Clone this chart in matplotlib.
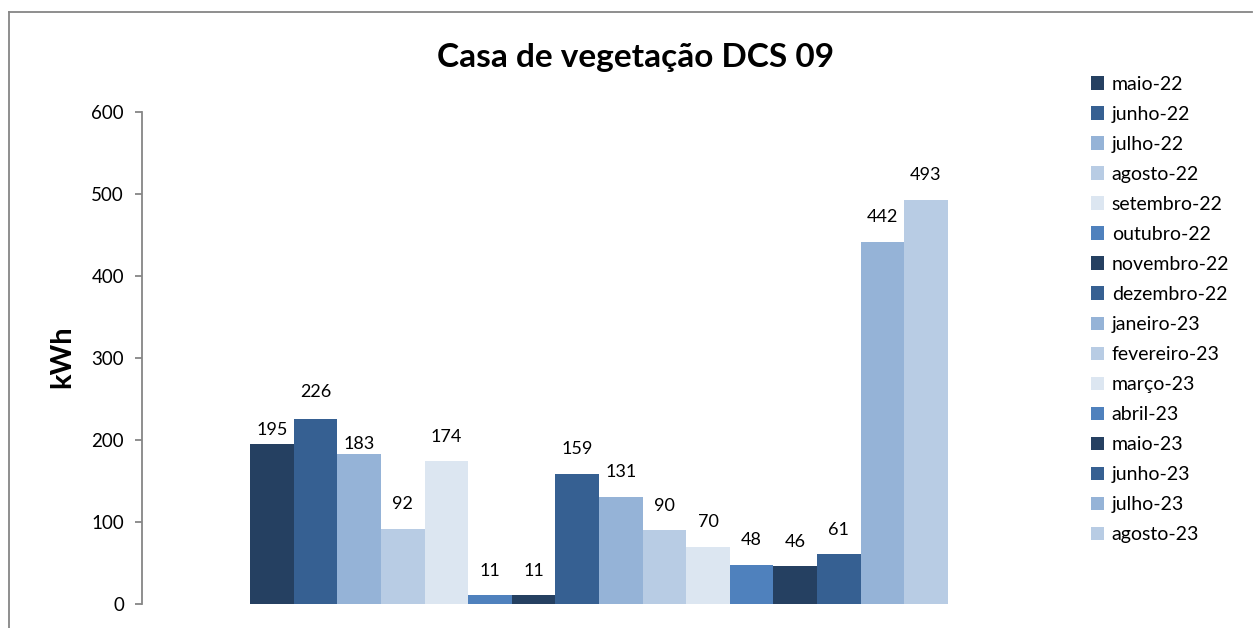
import matplotlib
matplotlib.use("Agg")
import matplotlib.pyplot as plt
from matplotlib.lines import Line2D

months = ["maio-22", "junho-22", "julho-22", "agosto-22", "setembro-22", "outubro-22",
          "novembro-22", "dezembro-22", "janeiro-23", "fevereiro-23", "março-23", "abril-23",
          "maio-23", "junho-23", "julho-23", "agosto-23"]
values = [195, 226, 183, 92, 174, 11, 11, 159, 131, 90, 70, 48, 46, 61, 442, 493]
palette = ["#254061", "#366092", "#95B3D7", "#B8CCE4", "#DCE6F1", "#4F81BD"]
colors = [palette[i % 6] for i in range(len(months))]

title = "Casa de vegetação DCS 09"
ylabel = "kWh"
yticks = [0, 100, 200, 300, 400, 500, 600]

# label placement tweaks (points) relative to the default outside-end offset
label_nudge_pt = [-7, 2, -10] + [0] * 13

plt.rcParams['font.family'] = ['Lato', 'DejaVu Sans']

W, H = 1253, 628
fig = plt.figure(figsize=(W / 100, H / 100), dpi=100)
ax = fig.add_axes([142 / W, 24 / H, (1056 - 142) / W, (604 - 112) / H])

n = len(values)
bw = 43.6 / 914
handles = []
for i, (m, v, c) in enumerate(zip(months, values, colors)):
    x = 0.5 + (i - (n - 1) / 2) * bw
    b = ax.bar(x, v, width=bw, color=c, label=m, linewidth=0)
    handles.append(b)
    ax.annotate(str(v), (x, v), xytext=(0, 17.5 + label_nudge_pt[i]),
                textcoords='offset points', ha='center', va='center',
                fontsize=13, color='black')

ax.set_xlim(0, 1)
ax.set_ylim(0, 600)
ax.set_yticks(yticks)
ax.set_xticks([])
for s in ['top', 'right', 'bottom']:
    ax.spines[s].set_visible(False)
ax.spines['left'].set_color('#868686')
ax.spines['left'].set_linewidth(1.3)
ax.tick_params(axis='y', direction='out', length=5, width=1.3, color='#868686',
               labelsize=13.5, pad=8)

fig.text(636 / W, 1 - 58 / H, title, ha='center', va='center', fontsize=24, fontweight='bold')
fig.text(62 / W, 1 - 357 / H, ylabel, ha='center', va='center', rotation=90,
         fontsize=21, fontweight='bold')

leg = fig.legend(handles=handles, loc='upper left', bbox_to_anchor=(1083 / W, 1 - 68 / H),
                 frameon=False, fontsize=14, handlelength=0.68, handleheight=0.68,
                 handletextpad=0.4, labelspacing=0.67, borderaxespad=0)

fig.add_artist(Line2D([9 / W, 9 / W], [0, 1 - 12 / H], transform=fig.transFigure,
                      color='#868686', linewidth=1.3))
fig.add_artist(Line2D([9 / W, 1252 / W], [1 - 12 / H, 1 - 12 / H], transform=fig.transFigure,
                      color='#868686', linewidth=1.3))

fig.savefig("out.png", dpi=100)
